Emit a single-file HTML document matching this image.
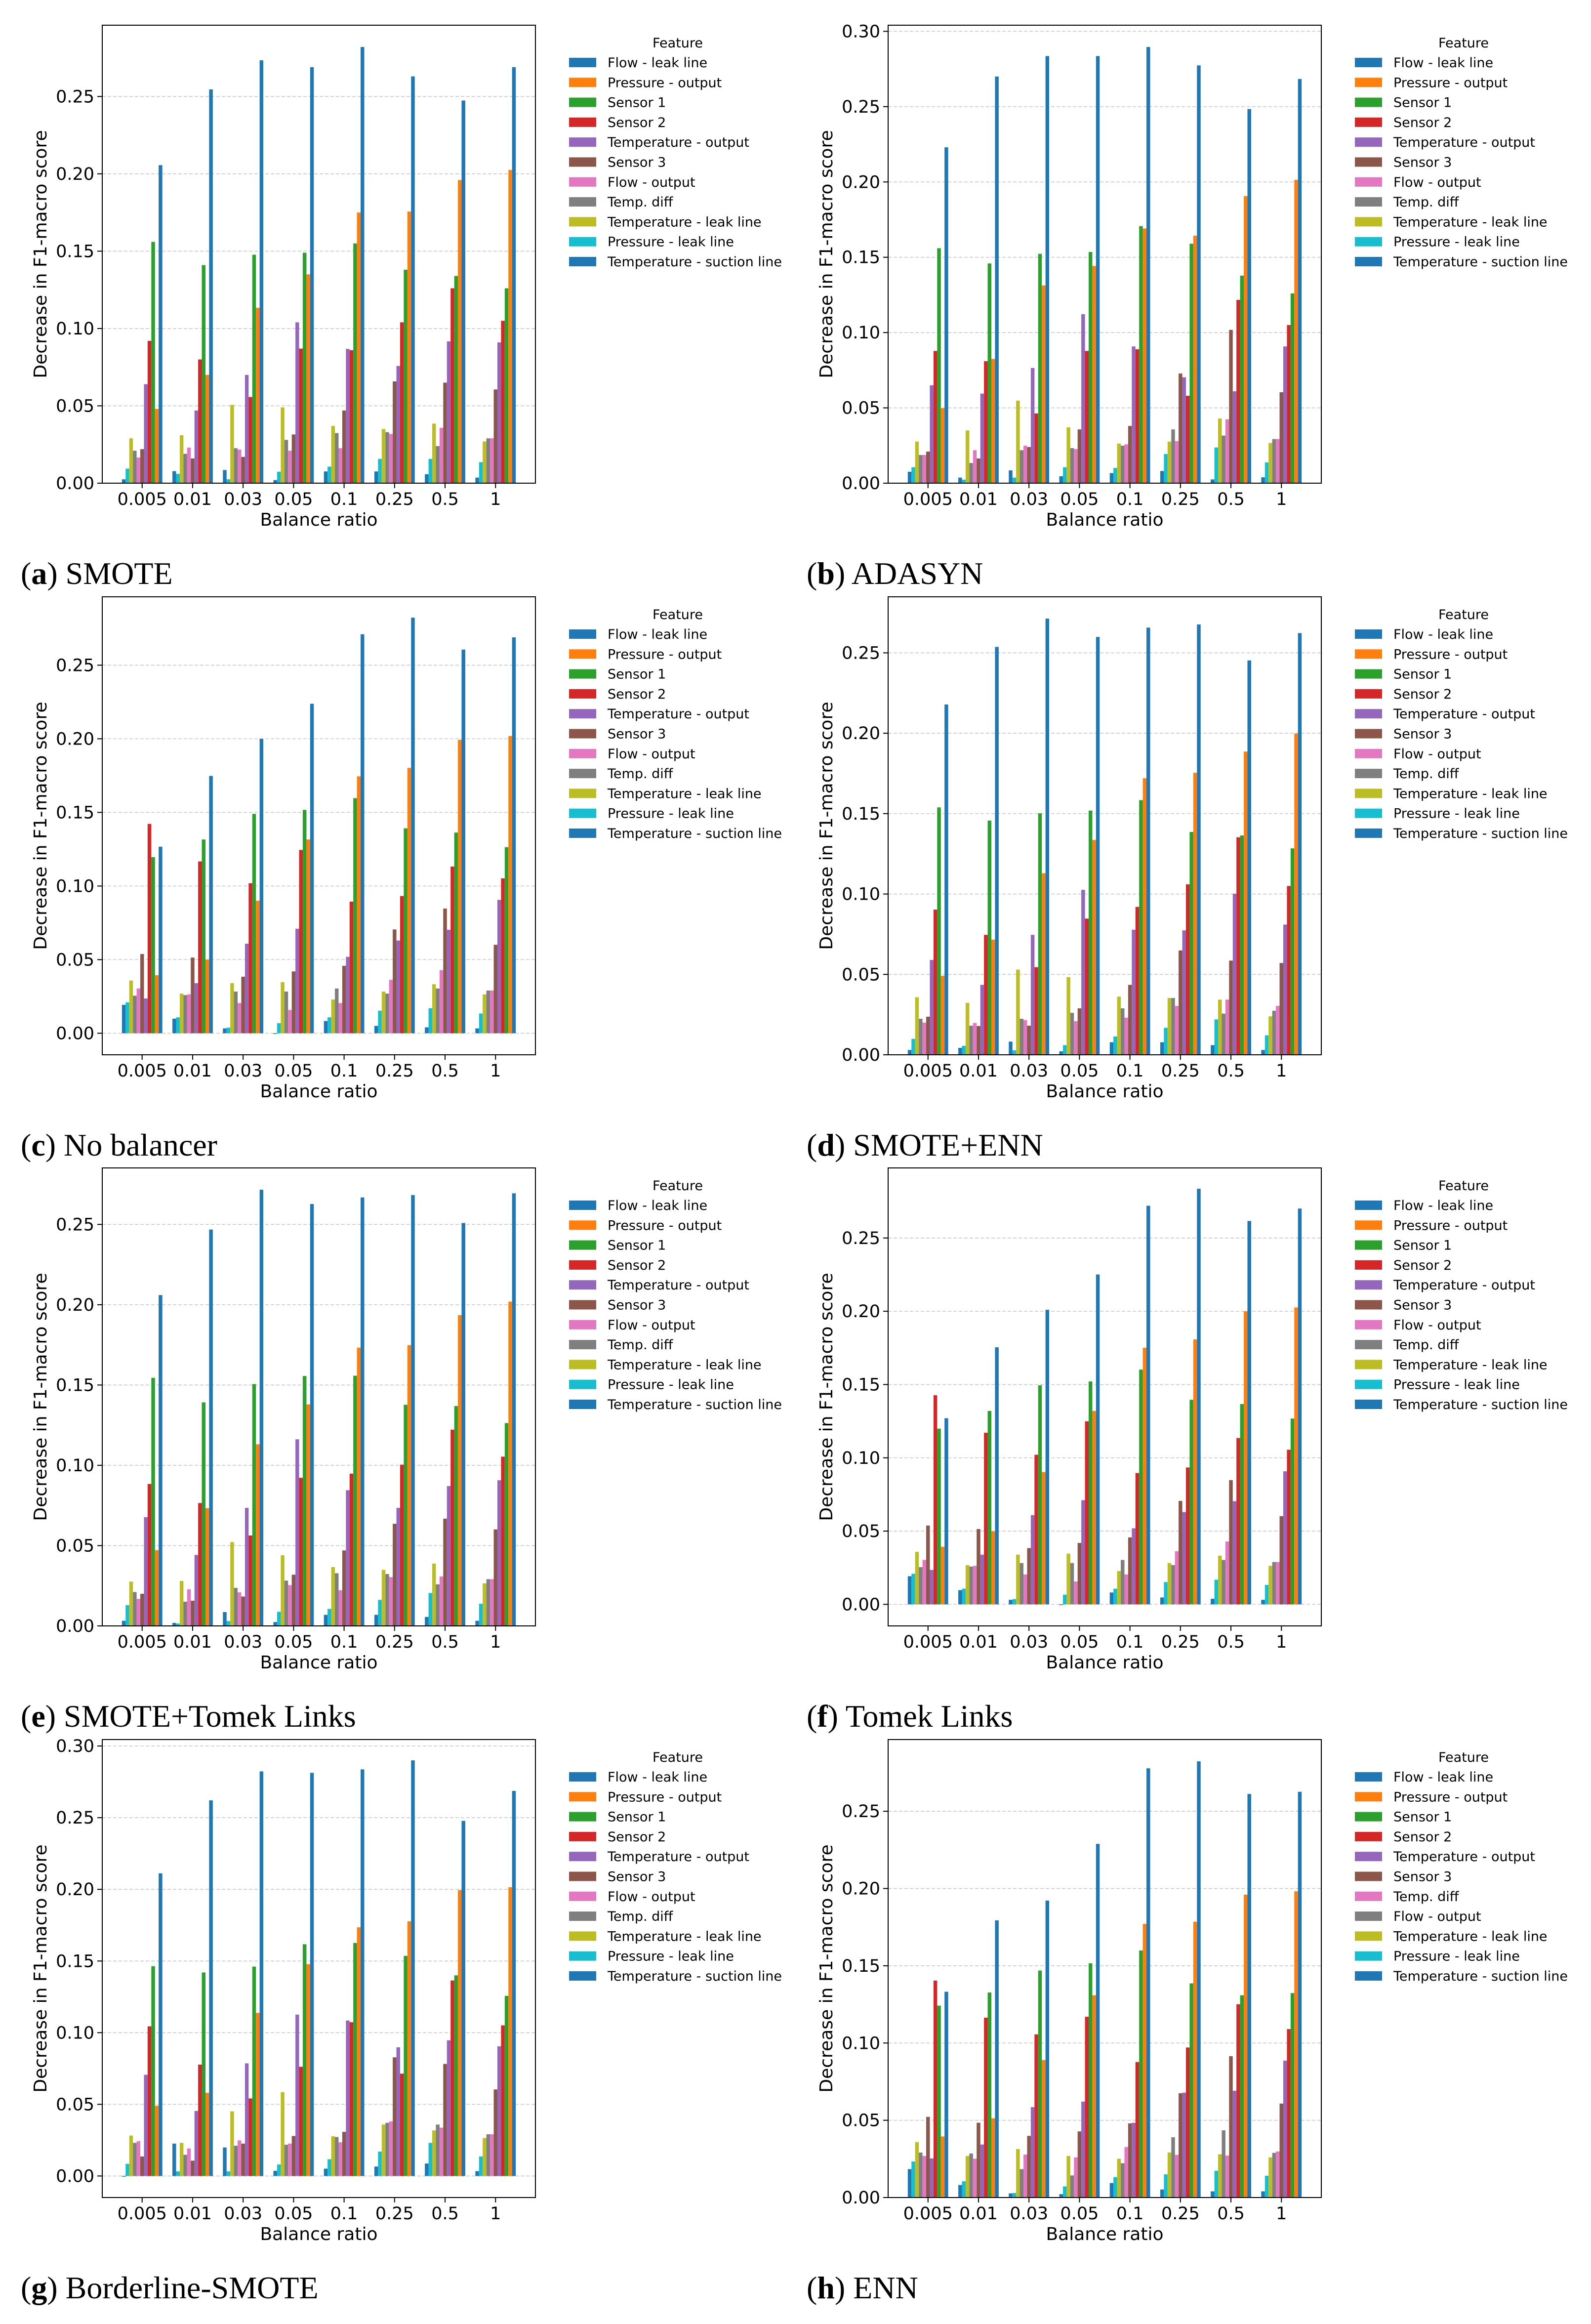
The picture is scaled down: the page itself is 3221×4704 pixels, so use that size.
<!DOCTYPE html>
<html><head><meta charset="utf-8"><style>
html,body{margin:0;padding:0;background:#fff;}
svg{display:block;}
text{font-family:"DejaVu Sans","Liberation Sans",sans-serif;fill:#000;}
.cap{font-family:"Liberation Serif",serif;font-size:64px;}
</style></head><body>
<svg id="fig" width="3221" height="4704" xmlns="http://www.w3.org/2000/svg"></svg>
<script>
const categories = ['0.005','0.01','0.03','0.05','0.1','0.25','0.5','1'];
const panelLetters = ['a','b','c','d','e','f','g','h'];
const panelTitles = ['SMOTE','ADASYN','No balancer','SMOTE+ENN','SMOTE+Tomek Links','Tomek Links','Borderline-SMOTE','ENN'];
// bar order left-to-right inside each group
const barColors = ['#1f77b4','#17becf','#bcbd22','#7f7f7f','#e377c2','#8c564b','#9467bd','#d62728','#2ca02c','#ff7f0e','#1f77b4'];
const legendLabels = ['Flow - leak line','Pressure - output','Sensor 1','Sensor 2','Temperature - output','Sensor 3','Flow - output','Temp. diff','Temperature - leak line','Pressure - leak line','Temperature - suction line'];
const legendLabelsENN = ['Flow - leak line','Pressure - output','Sensor 1','Sensor 2','Temperature - output','Sensor 3','Temp. diff','Flow - output','Temperature - leak line','Pressure - leak line','Temperature - suction line'];

const smoteValues = [
 [.0025,.0094,.029,.021,.0166,.022,.064,.092,.156,.048,.2056],
 [.0078,.006,.031,.019,.023,.016,.047,.080,.141,.070,.2546],
 [.0085,.0025,.0506,.0226,.0217,.017,.070,.0557,.1477,.1134,.2734],
 [.002,.0074,.049,.028,.021,.0315,.104,.087,.149,.135,.269],
 [.0076,.0107,.037,.0324,.0226,.047,.0868,.086,.155,.175,.282],
 [.0076,.0157,.035,.033,.0318,.0658,.0758,.104,.138,.1756,.263],
 [.0058,.0157,.0385,.024,.0358,.065,.0917,.126,.134,.196,.2474],
 [.0036,.0136,.027,.029,.029,.0606,.091,.105,.126,.2025,.269]];
const adasynValues = [
 [.0076,.0106,.0276,.0187,.0187,.021,.065,.0878,.156,.0498,.223],
 [.0037,.0023,.035,.0134,.0219,.0164,.0595,.081,.1459,.0825,.270],
 [.0085,.0037,.0548,.0219,.0249,.024,.0765,.0463,.1523,.1313,.2836],
 [.0046,.0106,.0371,.0233,.0226,.0357,.1122,.0878,.1535,.1442,.2836],
 [.0067,.0101,.0263,.0249,.0258,.038,.0908,.0889,.1707,.1691,.2896],
 [.0081,.0194,.0276,.0357,.0279,.0728,.0703,.058,.159,.1643,.2774],
 [.0025,.0237,.0429,.0316,.0424,.1018,.061,.1217,.1378,.1906,.2484],
 [.0039,.0138,.0267,.0293,.0293,.0604,.0908,.105,.126,.2014,.2684]];
const noBalancerValues = [
 [.0193,.021,.0358,.0255,.0304,.0538,.0236,.1422,.1196,.0394,.1267],
 [.0099,.0108,.0269,.0259,.0264,.0514,.034,.1167,.1316,.05,.1748],
 [.0033,.0038,.034,.0283,.0205,.0384,.0608,.1019,.149,.090,.200],
 [-.0005,.0068,.0347,.0283,.0158,.042,.071,.1245,.1517,.1316,.2238],
 [.0083,.0108,.0229,.0304,.0205,.0458,.0519,.0894,.1597,.1745,.271],
 [.005,.0153,.0283,.0269,.0363,.0705,.063,.0932,.1392,.1802,.2823],
 [.004,.017,.0333,.0304,.0429,.0847,.0703,.1132,.1363,.1993,.2606],
 [.0033,.0134,.0264,.029,.029,.0601,.0906,.1052,.1264,.2019,.2689]];
const smoteEnnValues = [
 [.003,.0099,.0358,.0224,.02,.0237,.059,.0903,.1539,.0491,.2179],
 [.0043,.0056,.0323,.0181,.0198,.0179,.0435,.0746,.1457,.0716,.2537],
 [.0082,.0028,.053,.0224,.0216,.0181,.0746,.0545,.1502,.1129,.2713],
 [.0022,.006,.0483,.0261,.0209,.0289,.1026,.0847,.1519,.1336,.2599],
 [.0078,.0114,.0362,.0289,.0231,.0435,.0778,.092,.1584,.172,.2657],
 [.0078,.0168,.0353,.0353,.0304,.0649,.0774,.106,.1386,.1754,.2677],
 [.006,.022,.0343,.0256,.0343,.0586,.1002,.1353,.1364,.1886,.2453],
 [.003,.0121,.0239,.0274,.0304,.0571,.081,.105,.1284,.1998,.2623]];
const smoteTomekValues = [
 [.0032,.0129,.0276,.0211,.0168,.02,.0677,.0884,.1545,.0472,.206],
 [.0019,.0015,.028,.0151,.0228,.0157,.0442,.0765,.1392,.0733,.2468],
 [.0086,.003,.0522,.0237,.0209,.0183,.0735,.0563,.1506,.1131,.2716],
 [.0024,.0088,.044,.0282,.0254,.0319,.1162,.0922,.1556,.1379,.2627],
 [.0069,.0106,.0366,.0328,.0222,.047,.0845,.0948,.1558,.1733,.2668],
 [.0069,.0162,.0349,.0323,.0304,.0636,.0735,.1004,.1377,.1748,.2683],
 [.0056,.0205,.0388,.0259,.0308,.0668,.0871,.1222,.1369,.1935,.2509],
 [.0032,.0138,.0265,.0291,.0291,.0601,.0907,.1054,.1263,.2019,.2694]];
const tomekValues = [
 [.0192,.0209,.0358,.0254,.0303,.0538,.0235,.1427,.1199,.0393,.127],
 [.0097,.0107,.0268,.0258,.0263,.0514,.0339,.1171,.132,.0498,.1754],
 [.0031,.0036,.0339,.0282,.0204,.0384,.0609,.1021,.1495,.0903,.201],
 [-.0005,.0066,.0346,.0282,.0156,.0419,.0711,.1249,.1521,.132,.2251],
 [.0081,.0107,.0227,.0303,.0204,.0457,.0519,.0896,.1602,.1751,.272],
 [.0047,.0152,.0282,.0268,.0363,.0706,.063,.0934,.1396,.1808,.2836],
 [.0038,.0168,.0332,.0303,.0429,.0848,.0704,.1135,.1367,.2,.2616],
 [.0031,.0133,.0263,.0289,.0289,.0602,.0908,.1055,.1268,.2026,.2701]];
const borderlineValues = [
 [-.0005,.0085,.0282,.0231,.0243,.0136,.0706,.1044,.1464,.049,.2112],
 [.0226,.0032,.0231,.0148,.0192,.0107,.0454,.0777,.142,.058,.2621],
 [.0199,.0032,.0451,.0211,.0248,.0226,.0786,.0541,.1461,.1138,.2823],
 [.0036,.008,.0585,.0218,.0226,.0279,.1126,.0762,.1617,.1478,.2813],
 [.0051,.0117,.0277,.0272,.0235,.0308,.1085,.1073,.1626,.1735,.2837],
 [.0066,.017,.0359,.0371,.0381,.0828,.0898,.0714,.1536,.1777,.29],
 [.0087,.0231,.0318,.0359,.0337,.0782,.0947,.1364,.14,.1995,.2478],
 [.0034,.0136,.0265,.0291,.0291,.0604,.0905,.1051,.1257,.2015,.2687]];
const ennValues = [
 [.0184,.0233,.0359,.0291,.0269,.0522,.0253,.1404,.1242,.0395,.1332],
 [.0081,.0105,.0269,.0285,.0251,.0484,.0343,.1164,.1327,.0513,.1794],
 [.0027,.0029,.0314,.0184,.0278,.0399,.0585,.1056,.1469,.089,.1922],
 [.0022,.0072,.0269,.0143,.026,.0428,.0621,.117,.1516,.1309,.2289],
 [.0094,.0132,.0251,.0222,.0327,.048,.0484,.0877,.1599,.1771,.2778],
 [.0052,.015,.0291,.039,.0276,.0675,.0679,.0971,.1386,.1785,.2823],
 [.004,.0173,.028,.0435,.0271,.0915,.0691,.1251,.1309,.196,.2612],
 [.004,.0141,.026,.0289,.0298,.0608,.0886,.109,.1323,.1982,.2626]];
const panelValues = [smoteValues, adasynValues, noBalancerValues, smoteEnnValues, smoteTomekValues, tomekValues, borderlineValues, ennValues];

const NS = 'http://www.w3.org/2000/svg';
const fig = document.getElementById('fig');
function mk(tag, attrs, parent, txt){
  const e = document.createElementNS(NS, tag);
  for (const k in attrs) e.setAttribute(k, attrs[k]);
  if (txt !== undefined) e.textContent = txt;
  parent.appendChild(e); return e;
}
const AX_W = 877, AX_H = 927;
const colX = [207, 1798];
const rowY = [51, 1208, 2364, 3521];

panelValues.forEach((vals, p) => {
  const ox = colX[p % 2], oy = rowY[Math.floor(p / 2)];
  const g = mk('g', {}, fig);
  
  
  let mx = -Infinity, mn = Infinity;
  vals.forEach(r => r.forEach(v => { mx = Math.max(mx, v); mn = Math.min(mn, v); }));
  const dmin = Math.min(0, mn);
  const range = mx - dmin;
  const ymin = mn < 0 ? dmin - 0.05 * range : 0;
  const ymax = mx + 0.05 * range;
  const xmin = -0.4 - 0.039 * 10, xmax = categories.length - 1 + 0.4 + 0.39;
  const sx = v => ox + (v - xmin) / (xmax - xmin) * AX_W;
  const sy = v => oy + AX_H - (v - ymin) / (ymax - ymin) * AX_H;
  for (let t = 0; t <= ymax + 1e-9; t += 0.05) {
    const y = sy(t);
    const gl = mk('line', {x1: ox, x2: ox + AX_W, y1: y, y2: y, stroke: '#c8c8c8', 'stroke-width': 1.6, 'stroke-dasharray': '7,4'}, g);
    
    
    mk('line', {x1: ox - 10, x2: ox, y1: y, y2: y, stroke: '#000', 'stroke-width': 2}, g);
    const tl = mk('text', {x: ox - 16, y: y + 12, 'text-anchor': 'end', 'font-size': 35}, g, t.toFixed(2));
    
    
  }
  const bw = 0.8 / 11;
  vals.forEach((row, gi) => {
    row.forEach((v, k) => {
      const x0 = sx(gi - 0.4 + k * bw), x1 = sx(gi - 0.4 + (k + 1) * bw);
      const ya = sy(Math.max(v, 0)), yb = sy(Math.min(v, 0));
      const r = mk('rect', {x: x0, y: ya, width: x1 - x0, height: Math.max(yb - ya, 0.5), fill: barColors[k]}, g);
      
      
    });
    const cx = sx(gi);
    mk('line', {x1: cx, x2: cx, y1: oy + AX_H, y2: oy + AX_H + 10, stroke: '#000', 'stroke-width': 2}, g);
    const xl = mk('text', {x: cx, y: oy + AX_H + 44, 'text-anchor': 'middle', 'font-size': 35}, g, categories[gi]);
    
    
  });
  const fr = mk('rect', {x: ox, y: oy, width: AX_W, height: AX_H, fill: 'none', stroke: '#000', 'stroke-width': 2}, g);
  
  
  const xt = mk('text', {x: ox + AX_W / 2, y: oy + AX_H + 86, 'text-anchor': 'middle', 'font-size': 36}, g, 'Balance ratio');
  
  
  const yx = ox - 113, yy = oy + AX_H / 2;
  const yt = mk('text', {x: yx, y: yy, 'text-anchor': 'middle', 'font-size': 36, transform: 'rotate(-90 ' + yx + ' ' + yy + ')'}, g, 'Decrease in F1-macro score');
  
  
  const lg = mk('g', {}, g);
  
  
  const lt = mk('text', {x: ox + 1165, y: oy + 45, 'text-anchor': 'middle', 'font-size': 27}, lg, 'Feature');
  
  
  const labels = p === 7 ? legendLabelsENN : legendLabels;
  labels.forEach((lab, i) => {
    const cy = oy + 75 + i * 40.3;
    const col = barColors[10 - i];
    const pr = mk('rect', {x: ox + 945, y: cy - 9, width: 55, height: 19, fill: col}, lg);
    
    
    const tx = mk('text', {x: ox + 1023, y: cy + 10, 'font-size': 27}, lg, lab);
    
    
  });
  const cap = mk('text', {x: ox - 165, y: oy + AX_H + 204, class: 'cap'}, g);
  
  
  mk('tspan', {}, cap, '(');
  mk('tspan', {'font-weight': 'bold'}, cap, panelLetters[p]);
  mk('tspan', {}, cap, ') ' + panelTitles[p]);
});
</script>
</body></html>
